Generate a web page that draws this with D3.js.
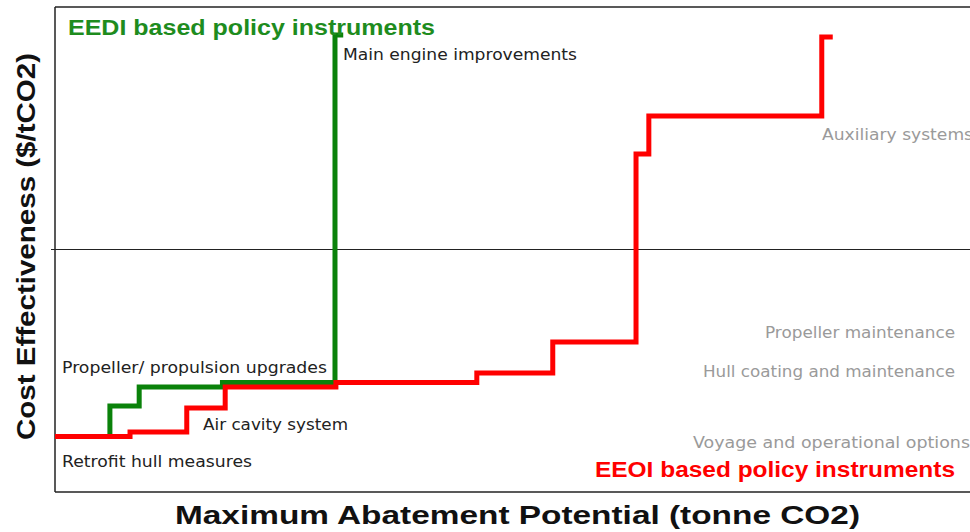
<!DOCTYPE html>
<html>
<head>
<meta charset="utf-8">
<script src="https://cdn.jsdelivr.net/npm/d3@7"></script>
<style>
  html, body { margin: 0; padding: 0; background: #fff; }
  svg { display: block; }
</style>
</head>
<body>
<svg id="chart" width="970" height="532"></svg>
<script>
// ---- Data (arbitrary units) ----
// EEOI (red) step curve: cumulative abatement potential and cost effectiveness
const eeoiX = [0, 8.2, 14.4, 18.6, 30.7, 46.1, 54.4, 63.5, 64.9, 83.8, 85.0];
const eeoiY = [-77.1, -75.3, -65.4, -56.7, -54.8, -50.9, -38.1, 39.4, 55.1, 87.6, 87.6];
// EEDI (green) step curve
const eediX = [6.0, 6.0, 9.2, 18.3, 30.6, 31.5];
const eediY = [-77.1, -64.5, -56.7, -54.8, 88.5, 88.5];

// Labels
const eediLabels = ["Main engine improvements", "Propeller/ propulsion upgrades", "Air cavity system", "Retrofit hull measures"];
const eeoiLabels = ["Auxiliary systems", "Propeller maintenance", "Hull coating and maintenance", "Voyage and operational options"];
const titles = ["EEDI based policy instruments", "EEOI based policy instruments"];
const axisTitles = ["Maximum Abatement Potential (tonne CO2)", "Cost Effectiveness ($/tCO2)"];

// ---- Layout ----
const svg = d3.select("#chart");
const mLeft = 55, mRight = 970, mTop = 7, mBottom = 492;
const x = d3.scaleLinear().domain([0, 100]).range([mLeft, mRight]);
const y = d3.scaleLinear().domain([-100, 100]).range([mBottom, mTop]);

// frame
const g = svg.append("g");
g.append("line").attr("x1", mLeft).attr("x2", mLeft).attr("y1", mTop).attr("y2", mBottom)
  .attr("stroke", "#222").attr("stroke-width", 1.5);
g.append("line").attr("x1", mLeft).attr("x2", mRight).attr("y1", mTop).attr("y2", mTop)
  .attr("stroke", "#222").attr("stroke-width", 1.5);
g.append("line").attr("x1", mLeft).attr("x2", mRight).attr("y1", mBottom).attr("y2", mBottom)
  .attr("stroke", "#222").attr("stroke-width", 1.5);
// zero line
g.append("line").attr("x1", mLeft - 4).attr("x2", mRight).attr("y1", y(0)).attr("y2", y(0))
  .attr("stroke", "#222").attr("stroke-width", 1.2);

const line = d3.line().x(d => x(d[0])).y(d => y(d[1])).curve(d3.curveStepAfter);

g.append("path").datum(d3.zip(eediX, eediY)).attr("d", line)
  .attr("fill", "none").attr("stroke", "#0a820a").attr("stroke-width", 5)
  .attr("stroke-linejoin", "miter");
g.append("path").datum(d3.zip(eeoiX, eeoiY)).attr("d", line)
  .attr("fill", "none").attr("stroke", "#ff0000").attr("stroke-width", 5)
  .attr("stroke-linejoin", "miter");

// Titles
const boldFont = "'Liberation Sans', Arial, sans-serif";
const labFont = "'DejaVu Sans', Verdana, sans-serif";
function txt(t, px, py, size, fill, len, bold, anchor) {
  return svg.append("text").attr("x", px).attr("y", py).text(t)
    .attr("text-anchor", anchor || "start")
    .attr("font-family", bold ? boldFont : labFont)
    .attr("font-weight", bold ? "bold" : "normal")
    .attr("font-size", size).attr("fill", fill)
    .attr("textLength", len).attr("lengthAdjust", "spacingAndGlyphs");
}
txt(titles[0], 68, 35, 22, "#1e8c1e", 367, true);
txt(titles[1], 595, 477, 22, "#ff0000", 360, true);

// EEDI labels (black)
const eediPos = [[343, 60, 234], [62, 373, 265], [203, 430, 145], [62, 467, 190]];
eediLabels.forEach((t, i) => txt(t, eediPos[i][0], eediPos[i][1], 15, "#222", eediPos[i][2], false));
// EEOI labels (grey)
const eeoiPos = [[822, 140, 151], [765, 338, 190], [703, 377, 252], [693, 448, 277]];
eeoiLabels.forEach((t, i) => txt(t, eeoiPos[i][0], eeoiPos[i][1], 15, "#9a9a9a", eeoiPos[i][2], false));

// Axis titles
txt(axisTitles[0], 175, 524, 25, "#111", 685, true);
svg.append("text").attr("transform", "translate(35,440) rotate(-90)").text(axisTitles[1])
  .attr("font-family", boldFont).attr("font-weight", "bold").attr("font-size", 26).attr("fill", "#111")
  .attr("textLength", 387).attr("lengthAdjust", "spacingAndGlyphs");
</script>
</body>
</html>
